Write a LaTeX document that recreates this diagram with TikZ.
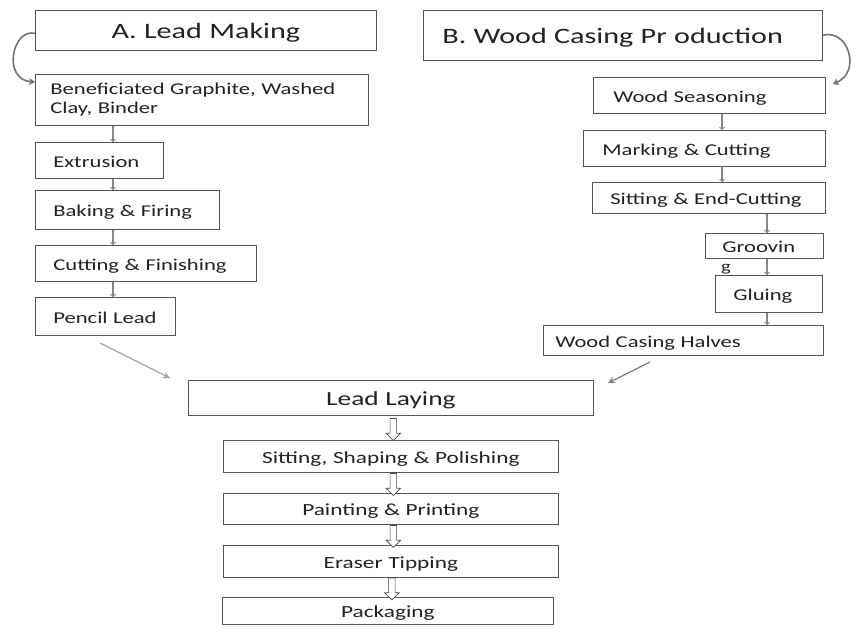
\documentclass[tikz,border=0pt]{standalone}
\usepackage{fontspec}
\setmainfont{Carlito}[FakeStretch=1.37]
\usetikzlibrary{arrows.meta,shapes.arrows,calc}
\definecolor{txt}{HTML}{222222}
\definecolor{edge}{HTML}{555555}
\definecolor{conn}{HTML}{858585}
\begin{document}
\begin{tikzpicture}[x=1pt,y=-1pt,
  box/.style={draw=edge, line width=0.7pt, fill=white, text=txt, anchor=north west,
    inner ysep=0pt, align=left, font=\fontsize{16.5}{19}\selectfont},
  one/.style={text height=13.6pt, text depth=0pt},
  cbox/.style={box, align=center},
  hdr/.style={font=\fontsize{22}{25}\selectfont, text height=17pt, text depth=0pt},
  bot/.style={font=\fontsize{17}{20}\selectfont, text height=14pt, text depth=0pt},
  connarrow/.style={draw=conn, line width=2.6pt, -{Stealth[length=3pt,width=6pt]}},
  curv/.style={draw=black!55, line width=1.6pt, -{Stealth[length=6pt,width=7pt]}},
  diag/.style={draw=black!35, line width=1.3pt, -{Stealth[length=7pt,width=7pt]}},
  hollow/.style={single arrow, draw=black!70, line width=0.6pt, fill=white,
    shape border rotate=270, minimum height=22pt, minimum width=14pt,
    single arrow head extend=4pt, inner sep=3pt}
]
\useasboundingbox[fill=white] (0,0) rectangle (856,634);

% Left column
\node[cbox, hdr, minimum height=40pt, text width=311pt, inner xsep=15pt] (A) at (35,10) {A. Lead Making};
\node[box, minimum height=51pt, text width=303pt, inner xsep=15pt] (ben) at (35,74) {Beneficiated Graphite, Washed\\Clay, Binder};
\node[box, one, minimum height=36pt, text width=92pt, inner xsep=18pt] (ext) at (35,142) {Extrusion};
\node[box, one, minimum height=39pt, text width=148pt, inner xsep=18pt] (bak) at (35,190) {Baking \& Firing};
\node[box, one, minimum height=36pt, text width=185pt, inner xsep=18pt] (cut) at (35,245) {Cutting \& Finishing};
\node[box, one, minimum height=38pt, text width=104pt, inner xsep=18pt] (pen) at (35,297) {Pencil Lead};

% Right column
\node[box, hdr, minimum height=50pt, text width=361pt, inner xsep=19pt] (B) at (423,10) {B. Wood Casing Pr oduction};
\node[box, one, minimum height=36pt, text width=192pt, inner xsep=20pt] (ws) at (593,77) {Wood Seasoning};
\node[box, one, minimum height=36pt, text width=204pt, inner xsep=19pt] (mc) at (583,130) {Marking \& Cutting};
\node[box, one, minimum height=31pt, text width=197pt, inner xsep=18pt] (se) at (592,182) {Sitting \& End-Cutting};
\node[box, one, minimum height=25pt, text width=84pt, inner xsep=17pt] (gr) at (705,233) {Groovin};
\node[text=txt, anchor=base west, inner sep=0pt, font=\fontsize{15}{18}\selectfont] (grg) at (721,271) {g};
\node[box, one, minimum height=37pt, text width=71pt, inner xsep=18pt] (gl) at (715,275) {Gluing};
\node[box, one, minimum height=30pt, text width=256pt, inner xsep=12pt] (wch) at (543,325) {Wood Casing Halves};

% Bottom column
\node[cbox, font=\fontsize{20}{23}\selectfont, text height=15.5pt, text depth=0pt, minimum height=35pt, text width=375pt, inner xsep=15pt] (ll) at (188,380) {Lead Laying};
\node[cbox, bot, minimum height=32pt, text width=315pt, inner xsep=10pt] (ssp) at (223,440) {Sitting, Shaping \& Polishing};
\node[cbox, bot, minimum height=31pt, text width=315pt, inner xsep=10pt] (pp) at (223,493) {Painting \& Printing};
\node[cbox, bot, minimum height=32pt, text width=315pt, inner xsep=10pt] (et) at (223,545) {Eraser Tipping};
\node[cbox, bot, minimum height=27pt, text width=311pt, inner xsep=10pt] (pk) at (222,597) {Packaging};

% Left connectors
\draw[connarrow] ([xshift=78pt]ben.south west) -- ([xshift=78pt]ext.north west);
\draw[connarrow] ([xshift=78pt]ext.south west) -- ([xshift=78pt]bak.north west);
\draw[connarrow] ([xshift=78pt]bak.south west) -- ([xshift=78pt]cut.north west);
\draw[connarrow] ([xshift=78pt]cut.south west) -- ([xshift=78pt]pen.north west);

% Right connectors
\draw[connarrow] ([xshift=129pt]ws.south west) -- ([xshift=139pt]mc.north west);
\draw[connarrow] ([xshift=139pt]mc.south west) -- ([xshift=130pt]se.north west);
\draw[connarrow] ([xshift=175pt]se.south west) -- ([xshift=62pt]gr.north west);
\draw[connarrow] ([xshift=62pt]gr.south west) -- ([xshift=52pt]gl.north west);
\draw[connarrow] ([xshift=52pt]gl.south west) -- ([xshift=224pt]wch.north west);

% Curved arrows
\draw[curv] ([yshift=-3pt]A.west) .. controls (12,28) and (2,80) .. ([yshift=-8pt]ben.north west);
\draw[curv] ([yshift=0pt]B.east) .. controls (848,28) and (862,72) .. ([xshift=7pt,yshift=-7pt]ws.north east);

% Diagonal arrows
\coordinate (pl1) at (100,343);
\coordinate (pl2) at (170,378);
\draw[diag] (pl1) -- (pl2);
\coordinate (wc1) at (650,362);
\coordinate (wc2) at (608,383);
\draw[diag, draw=black!50] (wc1) -- (wc2);

% Hollow arrows
\node[hollow] (h1) at ($([xshift=2.5pt]ll.south)!0.5!([xshift=2.5pt]ssp.north)$) {};
\node[hollow] (h2) at ($([xshift=2.5pt]ssp.south)!0.5!([xshift=2.5pt]pp.north)$) {};
\node[hollow] (h3) at ($([xshift=2.5pt]pp.south)!0.5!([xshift=2.5pt]et.north)$) {};
\node[hollow] (h4) at ($([xshift=2.5pt]et.south)!0.5!([xshift=2.5pt]pk.north)$) {};
\end{tikzpicture}
\end{document}
